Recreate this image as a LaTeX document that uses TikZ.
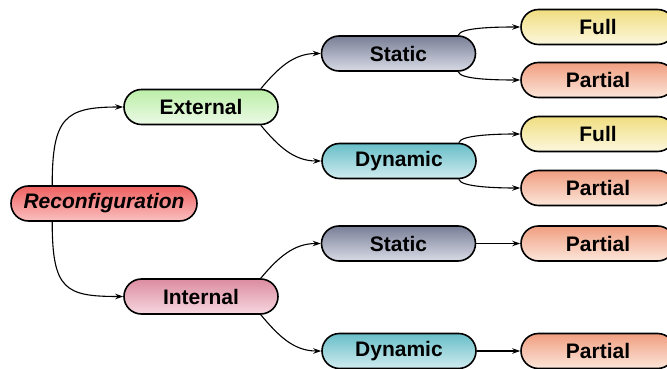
\documentclass[tikz,border=0pt]{standalone}
\usepackage{fontspec}
\setmainfont{Liberation Sans}
\usetikzlibrary{arrows.meta,calc}
\definecolor{recT}{RGB}{240,96,96}\definecolor{recB}{RGB}{250,192,192}
\definecolor{extT}{RGB}{188,238,168}\definecolor{extB}{RGB}{236,250,230}
\definecolor{intT}{RGB}{220,140,160}\definecolor{intB}{RGB}{246,216,224}
\definecolor{staT}{RGB}{120,126,150}\definecolor{staB}{RGB}{216,219,230}
\definecolor{dynT}{RGB}{104,190,200}\definecolor{dynB}{RGB}{208,236,240}
\definecolor{fulT}{RGB}{240,222,128}\definecolor{fulB}{RGB}{252,247,222}
\definecolor{parT}{RGB}{240,158,128}\definecolor{parB}{RGB}{252,230,218}
\tikzset{
  box/.style={draw=black, line width=1.6pt, rounded corners=17.5pt,
    minimum width=154pt, minimum height=35pt, inner sep=0pt,
    font=\bfseries\fontsize{21}{24}\selectfont},
  recbox/.style={box, minimum width=186pt, top color=recT, bottom color=recB,
    font=\bfseries\itshape\fontsize{21}{24}\selectfont},
  extbox/.style={box, top color=extT, bottom color=extB},
  intbox/.style={box, top color=intT, bottom color=intB},
  stabox/.style={box, top color=staT, bottom color=staB},
  dynbox/.style={box, top color=dynT, bottom color=dynB},
  fulbox/.style={box, top color=fulT, bottom color=fulB},
  parbox/.style={box, top color=parT, bottom color=parB},
  conn/.style={line width=1.1pt, -{Stealth[length=8pt,width=5.5pt]}},
  up/.style={out=80, in=180, out distance=8pt, in distance=22pt},
  down/.style={out=-80, in=180, out distance=8pt, in distance=22pt},
}
\begin{document}
\begin{tikzpicture}[x=1pt,y=-1pt]
\useasboundingbox (0,0) rectangle (667,369);
\node[recbox] (rec) at (104,203.5) {Reconfiguration};
\node[extbox] (ext) at (201,107) {External};
\node[intbox] (int) at (201,296.5) {Internal};
\node[stabox] (st1) at (398.5,53.5) {Static};
\node[dynbox] (dy1) at (399,161) {Dynamic};
\node[stabox] (st2) at (398.5,243.5) {Static};
\node[dynbox] (dy2) at (399,351) {Dynamic};
\node[fulbox] (f1) at (598,27) {Full};
\node[parbox] (p1) at (598,80) {Partial};
\node[fulbox] (f2) at (598,134) {Full};
\node[parbox] (p2) at (598,188) {Partial};
\node[parbox] (p3) at (598,243.5) {Partial};
\node[parbox] (p4) at (598,351) {Partial};
% connectors
\coordinate (rtop) at ($(rec.north west)+(42,0)$);
\coordinate (rbot) at ($(rec.south west)+(42,0)$);
\draw[conn] (rtop) to[out=90,in=180,out distance=68pt,in distance=58pt] (ext.west);
\draw[conn] (rbot) to[out=-90,in=180,out distance=68pt,in distance=58pt] (int.west);
\coordinate (eNE) at ($(ext.north east)+(-18,0)$);
\coordinate (eSE) at ($(ext.south east)+(-18,0)$);
\coordinate (iNE) at ($(int.north east)+(-18,0)$);
\coordinate (iSE) at ($(int.south east)+(-18,0)$);
\draw[conn] (eNE) to[out=50,in=180] (st1.west);
\draw[conn] (eSE) to[out=-50,in=180] (dy1.west);
\draw[conn] (iNE) to[out=50,in=180] (st2.west);
\draw[conn] (iSE) to[out=-50,in=180] (dy2.west);
\coordinate (s1NE) at ($(st1.north east)+(-18,0)$);
\coordinate (s1SE) at ($(st1.south east)+(-18,0)$);
\coordinate (d1NE) at ($(dy1.north east)+(-18,0)$);
\coordinate (d1SE) at ($(dy1.south east)+(-18,0)$);
\draw[conn] (s1NE) to[up] (f1.west);
\draw[conn] (s1SE) to[down] (p1.west);
\draw[conn] (d1NE) to[up] (f2.west);
\draw[conn] (d1SE) to[down] (p2.west);
\draw[conn] (st2.east) -- (p3.west);
\draw[conn] (dy2.east) -- (p4.west);
\end{tikzpicture}
\end{document}
